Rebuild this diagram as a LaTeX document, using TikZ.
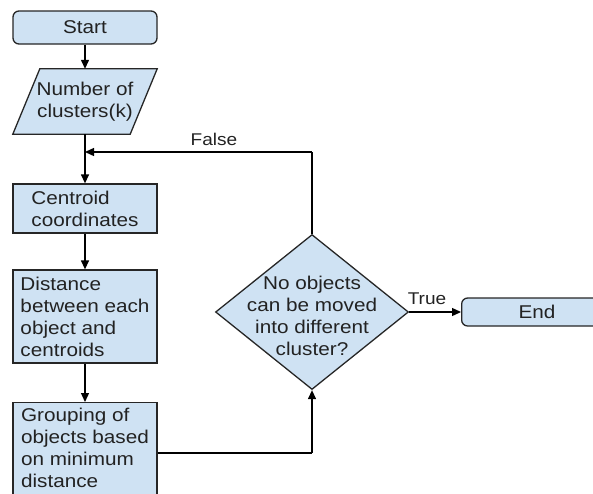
\documentclass[tikz,border=0pt]{standalone}
\usepackage{fontspec}
\setmainfont[FakeStretch=1.12]{Liberation Sans}
\usetikzlibrary{arrows.meta,shapes.geometric,backgrounds}
\definecolor{boxfill}{HTML}{CFE2F3}
\definecolor{linec}{HTML}{262626}
\definecolor{textc}{HTML}{222222}
\begin{document}
\begin{tikzpicture}[x=1pt,y=-1pt,
  every node/.style={font=\fontsize{18.5}{22}\selectfont, text=textc},
  box/.style={draw=linec, fill=boxfill, line width=1.3pt, minimum width=144pt, inner sep=0pt, align=left},
  rbox/.style={box, rounded corners=6pt},
  conn/.style={draw=black, line width=1.3pt, -{Triangle[length=9pt,width=8pt]}},
  plain/.style={draw=black, line width=1.3pt},
  lbl/.style={font=\fontsize{17}{19}\selectfont, inner sep=0pt}]
\useasboundingbox (0,0) rectangle (593,493);
\clip (0,0) rectangle (593,493);
% nodes
\node[rbox, minimum height=33pt, align=center] (start) at (85,27.5) {Start};
\node[minimum width=117pt, minimum height=65pt, inner sep=0pt, align=center] (para) at (85,101.5) {Number of\\clusters(k)};
\begin{scope}[on background layer]
\draw[draw=linec, fill=boxfill, line width=1.3pt, line join=miter]
  ([xshift=13.5pt]para.north west) -- ([xshift=13.5pt]para.north east) --
  ([xshift=-13.5pt]para.south east) -- ([xshift=-13.5pt]para.south west) -- cycle;
\end{scope}
\node[box, minimum height=49pt] (cent) at (85,208.5) {Centroid\\coordinates};
\node[box, minimum height=93pt] (dist) at (85,316.5) {Distance\\between each\\object and\\centroids};
\node[box, minimum height=100pt, anchor=north] (group) at (85,402) {};
\node[align=left, inner sep=0pt] (grouptxt) at (85,447.5) {Grouping of\\objects based\\on minimum\\distance};
\node[diamond, draw=linec, fill=boxfill, line width=1.3pt, minimum width=193pt, minimum height=155pt, inner sep=0pt] (dec) at (312,312) {};
\node[align=center, inner sep=0pt] (dectxt) at (312,316) {No objects\\can be moved\\into different\\cluster?};
\node[rbox, minimum width=150pt, minimum height=28pt, anchor=west] (end) at (461,312) {};
\node[inner sep=0pt] (endtxt) at (537,312) {End};
\coordinate (join) at (85,152);
\coordinate (ftop) at (312,152);
\coordinate (gcorner) at (312,453);
% connectors
\draw[conn] (start) -- (para);
\draw[conn] (para) -- (cent);
\draw[conn] (cent) -- (dist);
\draw[conn] (dist) -- (group);
\draw[plain] (group.east |- gcorner) -- (gcorner);
\draw[conn] (gcorner) -- (dec.south);
\draw[plain] (dec.north) -- (ftop);
\draw[conn] (ftop) -- (join);
\draw[conn] (dec.east) -- (end.west);
% labels
\node[lbl, anchor=base] (flbl) at (214,145) {False};
\node[lbl, anchor=base] (tlbl) at (427,304) {True};
\end{tikzpicture}
\end{document}
